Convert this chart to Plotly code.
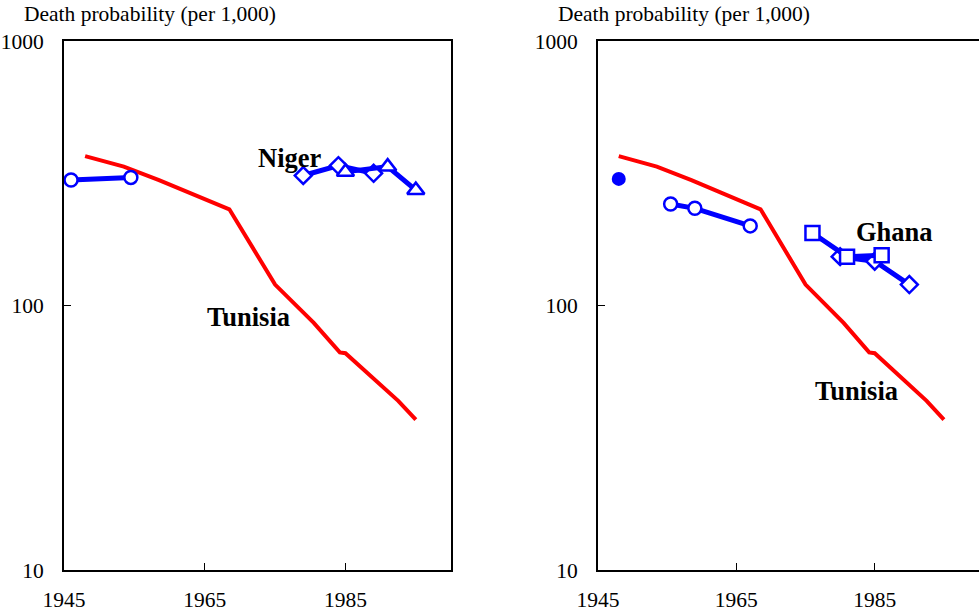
import plotly.graph_objects as go
from plotly.subplots import make_subplots

# Tunisia (reference curve, drawn in both panels)
tunisia_years = [1948, 1953.5, 1958.5, 1968.5, 1975, 1980.5, 1984.2, 1985, 1992.5, 1995]
tunisia_vals = [367, 335, 298, 231, 120, 86, 66.5, 66, 43.6, 37]

# Niger
niger_circle_years = [1946, 1954.5]
niger_circle_vals = [298, 305]
niger_diamond_years = [1979, 1984, 1989]
niger_diamond_vals = [310, 338, 316]
niger_triangle_years = [1985, 1991, 1995]
niger_triangle_vals = [320, 335, 273]

# Ghana
ghana_dot_years = [1948]
ghana_dot_vals = [301]
ghana_circle_years = [1955.5, 1959, 1967]
ghana_circle_vals = [242, 233, 200]
ghana_diamond_years = [1980, 1985, 1990]
ghana_diamond_vals = [153, 147, 120]
ghana_square_years = [1976, 1981, 1986]
ghana_square_vals = [188, 153, 155]

x_ticks = [1945, 1965, 1985]
y_ticks = [10, 100, 1000]
y_tick_text = ["10", "100", "1000"]

RED = "#ff0000"
BLUE = "#0000ff"
FONT = "Liberation Serif"

fig = make_subplots(rows=1, cols=2)


def red_line(col):
    fig.add_trace(go.Scatter(x=tunisia_years, y=tunisia_vals, mode="lines",
                             line=dict(color=RED, width=4), showlegend=False),
                  row=1, col=col)


def blue_series(xs, ys, symbol, size, col, filled=False):
    fig.add_trace(go.Scatter(
        x=xs, y=ys, mode="lines+markers",
        line=dict(color=BLUE, width=5),
        marker=dict(symbol=symbol, size=size,
                    color=BLUE if filled else "white",
                    line=dict(color=BLUE, width=2.5)),
        showlegend=False), row=1, col=col)


# left panel: Niger vs Tunisia
red_line(1)
blue_series(niger_circle_years, niger_circle_vals, "circle", 13, 1)
blue_series(niger_diamond_years, niger_diamond_vals, "diamond", 13, 1)
blue_series(niger_triangle_years, niger_triangle_vals, "triangle-up", 15, 1)

# right panel: Ghana vs Tunisia
red_line(2)
fig.add_trace(go.Scatter(x=ghana_dot_years, y=ghana_dot_vals, mode="markers",
                         marker=dict(symbol="circle", size=14, color=BLUE),
                         showlegend=False), row=1, col=2)
blue_series(ghana_circle_years, ghana_circle_vals, "circle", 13, 2)
blue_series(ghana_diamond_years, ghana_diamond_vals, "diamond", 13, 2)
blue_series(ghana_square_years, ghana_square_vals, "square", 14, 2)

W, H = 979, 613
y_dom = [1 - 570 / H, 1 - 41 / H]

axis_common = dict(showgrid=False, zeroline=False, showline=True, mirror=True,
                   automargin=False,
                   linecolor="black", linewidth=2, ticks="inside", ticklen=7,
                   tickwidth=1, tickcolor="black",
                   tickfont=dict(family=FONT, size=21.5, color="black"))

fig.update_xaxes(range=[1945, 2000], tickvals=x_ticks, ticklabelstandoff=9,
                 **axis_common)
fig.update_yaxes(type="log", range=[1, 3], tickvals=y_ticks, ticktext=y_tick_text,
                 ticklabelstandoff=14, domain=y_dom, **axis_common)
fig.update_xaxes(domain=[64 / W, 451 / W], row=1, col=1)
fig.update_xaxes(domain=[598 / W, 978.5 / W], row=1, col=2)

label_font = dict(family=FONT, size=26.5, color="black")
annotations = [
    dict(x=1977.05, y=2.558, xref="x", yref="y", text="<b>Niger</b>"),
    dict(x=1971.25, y=1.958, xref="x", yref="y", text="<b>Tunisia</b>"),
    dict(x=1987.8, y=2.279, xref="x2", yref="y2", text="<b>Ghana</b>"),
    dict(x=1982.4, y=1.678, xref="x2", yref="y2", text="<b>Tunisia</b>"),
]
for a in annotations:
    fig.add_annotation(showarrow=False, font=label_font, **a)

for x0 in (22, 556):
    fig.add_annotation(x=x0 / W, y=1 - 14 / H, xref="paper", yref="paper",
                       xanchor="left", yanchor="middle", showarrow=False,
                       text="Death probability (per 1,000)",
                       font=dict(family=FONT, size=21.5, color="black"))

fig.update_layout(width=W, height=H, margin=dict(l=0, r=0, t=0, b=0),
                  paper_bgcolor="white", plot_bgcolor="white",
                  showlegend=False)

fig.write_html("out.html")
